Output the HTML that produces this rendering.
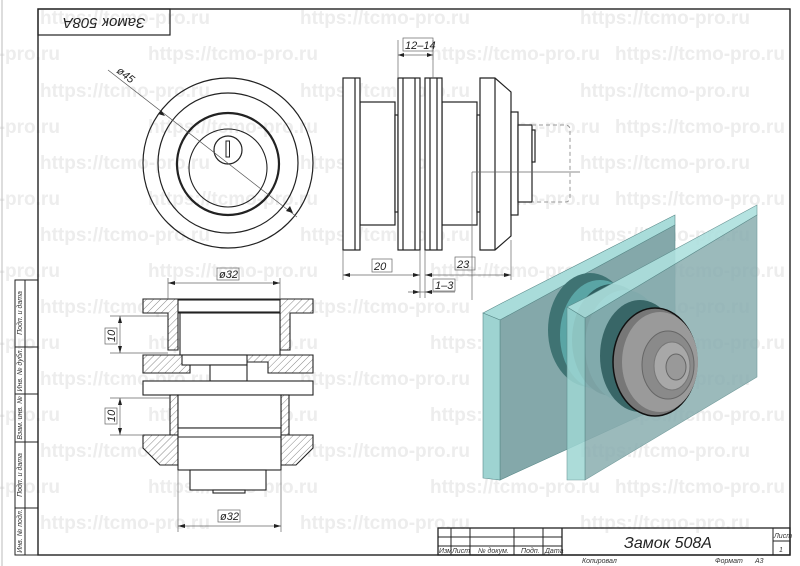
<!DOCTYPE html>
<html><head><meta charset="utf-8"><style>
html,body{margin:0;padding:0;background:#fff;}
svg{display:block;font-family:"Liberation Sans","DejaVu Sans",sans-serif;}
.wm{font-weight:bold;font-size:19px;fill:#ededed;}
.d{font-style:italic;font-size:11px;fill:#222;}
</style></head><body>
<svg width="800" height="566" viewBox="0 0 800 566" xmlns="http://www.w3.org/2000/svg">
<defs>
<pattern id="h" width="5" height="5" patternUnits="userSpaceOnUse" patternTransform="rotate(45)">
<rect width="5" height="5" fill="#fff"/><line x1="0" y1="0" x2="0" y2="5" stroke="#555" stroke-width="0.7"/></pattern>
</defs>
<g class="wm">
<text x="40" y="24">https://tcmo-pro.ru</text><text x="300" y="24">https://tcmo-pro.ru</text><text x="580" y="24">https://tcmo-pro.ru</text>
<text x="-110" y="60">https://tcmo-pro.ru</text><text x="148" y="60">https://tcmo-pro.ru</text><text x="430" y="60">https://tcmo-pro.ru</text><text x="615" y="60">https://tcmo-pro.ru</text>
<text x="40" y="97">https://tcmo-pro.ru</text><text x="300" y="97">https://tcmo-pro.ru</text><text x="580" y="97">https://tcmo-pro.ru</text>
<text x="-110" y="133">https://tcmo-pro.ru</text><text x="148" y="133">https://tcmo-pro.ru</text><text x="430" y="133">https://tcmo-pro.ru</text><text x="615" y="133">https://tcmo-pro.ru</text>
<text x="40" y="169">https://tcmo-pro.ru</text><text x="300" y="169">https://tcmo-pro.ru</text><text x="580" y="169">https://tcmo-pro.ru</text>
<text x="-110" y="205">https://tcmo-pro.ru</text><text x="148" y="205">https://tcmo-pro.ru</text><text x="430" y="205">https://tcmo-pro.ru</text><text x="615" y="205">https://tcmo-pro.ru</text>
<text x="40" y="241">https://tcmo-pro.ru</text><text x="300" y="241">https://tcmo-pro.ru</text><text x="580" y="241">https://tcmo-pro.ru</text>
<text x="-110" y="277">https://tcmo-pro.ru</text><text x="148" y="277">https://tcmo-pro.ru</text><text x="430" y="277">https://tcmo-pro.ru</text><text x="615" y="277">https://tcmo-pro.ru</text>
<text x="40" y="313">https://tcmo-pro.ru</text><text x="300" y="313">https://tcmo-pro.ru</text><text x="580" y="313">https://tcmo-pro.ru</text>
<text x="-110" y="349">https://tcmo-pro.ru</text><text x="148" y="349">https://tcmo-pro.ru</text><text x="430" y="349">https://tcmo-pro.ru</text><text x="615" y="349">https://tcmo-pro.ru</text>
<text x="40" y="385">https://tcmo-pro.ru</text><text x="300" y="385">https://tcmo-pro.ru</text><text x="580" y="385">https://tcmo-pro.ru</text>
<text x="-110" y="421">https://tcmo-pro.ru</text><text x="148" y="421">https://tcmo-pro.ru</text><text x="430" y="421">https://tcmo-pro.ru</text><text x="615" y="421">https://tcmo-pro.ru</text>
<text x="40" y="457">https://tcmo-pro.ru</text><text x="300" y="457">https://tcmo-pro.ru</text><text x="580" y="457">https://tcmo-pro.ru</text>
<text x="-110" y="493">https://tcmo-pro.ru</text><text x="148" y="493">https://tcmo-pro.ru</text><text x="430" y="493">https://tcmo-pro.ru</text><text x="615" y="493">https://tcmo-pro.ru</text>
<text x="40" y="529">https://tcmo-pro.ru</text><text x="300" y="529">https://tcmo-pro.ru</text><text x="580" y="529">https://tcmo-pro.ru</text>
</g>

<g fill="none" stroke="#222">
<rect x="38" y="9" width="752" height="546" stroke-width="1.4"/>
<rect x="38" y="9" width="132" height="26" stroke-width="1.2"/>
<rect x="15" y="280" width="23" height="275" stroke-width="1"/>
<line x1="25" y1="280" x2="25" y2="555"/>
<line x1="15" y1="347" x2="38" y2="347"/><line x1="15" y1="394" x2="38" y2="394"/>
<line x1="15" y1="442" x2="38" y2="442"/><line x1="15" y1="508" x2="38" y2="508"/>
<line x1="2" y1="0" x2="2" y2="566" stroke="#bbb"/>
</g>
<text x="104" y="22" transform="rotate(180 104 22)" text-anchor="middle" dominant-baseline="middle" style="font-style:italic;font-size:15px;fill:#222">Замок 508А</text>
<g style="font-style:italic;font-size:7px;fill:#333">
<text transform="translate(22,313) rotate(-90)" text-anchor="middle">Подп. и дата</text>
<text transform="translate(22,370) rotate(-90)" text-anchor="middle">Инв. № дубл.</text>
<text transform="translate(22,418) rotate(-90)" text-anchor="middle">Взам. инв. №</text>
<text transform="translate(22,475) rotate(-90)" text-anchor="middle">Подп. и дата</text>
<text transform="translate(22,531) rotate(-90)" text-anchor="middle">Инв. № подл.</text>
</g>

<g fill="none" stroke="#222" stroke-width="1">
<rect x="438" y="528" width="352" height="27" stroke-width="1.3"/>
<line x1="451" y1="528" x2="451" y2="555"/><line x1="470" y1="528" x2="470" y2="555"/>
<line x1="514" y1="528" x2="514" y2="555"/><line x1="543" y1="528" x2="543" y2="555"/>
<line x1="562" y1="528" x2="562" y2="555" stroke-width="1.3"/>
<line x1="773" y1="528" x2="773" y2="555"/>
<line x1="438" y1="537" x2="562" y2="537"/><line x1="438" y1="546" x2="562" y2="546"/>
<line x1="773" y1="541" x2="790" y2="541"/>
</g>
<g style="font-style:italic;font-size:7px;fill:#333">
<text x="439" y="553">Изм</text><text x="452" y="553">Лист</text><text x="478" y="553">№ докум.</text><text x="521" y="553">Подп.</text><text x="545" y="553">Дата</text>
<text x="774" y="538">Лист</text><text x="779" y="552">1</text>
<text x="582" y="563">Копировал</text><text x="715" y="563">Формат</text><text x="755" y="563">А3</text>
</g>
<text x="668" y="548" text-anchor="middle" style="font-style:italic;font-size:16px;fill:#222">Замок 508А</text>

<g fill="none" stroke="#222">
<circle cx="228" cy="163" r="85" stroke-width="1.2"/>
<circle cx="228" cy="163" r="70" stroke-width="1.2"/>
<circle cx="228" cy="164" r="51" stroke-width="2.2"/>
<circle cx="228" cy="168" r="39" stroke-width="1.1"/>
<circle cx="228" cy="150" r="14" stroke-width="1.2"/>
<rect x="226" y="141" width="3.5" height="16" stroke-width="1"/>
<line x1="108" y1="70" x2="297" y2="217" stroke="#555" stroke-width="0.7"/>
</g>
<path d="M165,116 l-7,-2 l3,-4z M293,213 l-3,-7 l-4,5z" fill="#222"/>
<text class="d" transform="translate(116,72) rotate(38)">ø45</text>

<g fill="#fff" stroke="#222" stroke-width="1.2">
<rect x="360" y="102" width="35" height="123"/>
<rect x="395" y="115" width="3" height="97"/>
<rect x="442" y="102" width="35" height="123"/>
<rect x="477" y="115" width="3" height="97"/>
<rect x="343" y="78" width="17" height="172"/>
<line x1="355" y1="78" x2="355" y2="250"/>
<rect x="398" y="78" width="22" height="172"/>
<line x1="403" y1="78" x2="403" y2="250"/>
<line x1="415" y1="78" x2="415" y2="250"/>
<rect x="425" y="78" width="17" height="172"/>
<line x1="430" y1="78" x2="430" y2="250"/>
<line x1="437" y1="78" x2="437" y2="250"/>
<path d="M480,78 H495 L511,92 V236 L495,250 H480Z"/>
<line x1="495" y1="78" x2="495" y2="250"/>
<rect x="511" y="112" width="7" height="103"/>
<rect x="518" y="125" width="14" height="77"/>
<rect x="532" y="130" width="3" height="32"/>
</g>
<path d="M532,125 H565 Q570,125 570,130 V197 Q570,202 565,202 H532" fill="none" stroke="#999" stroke-dasharray="4,3"/>
<g stroke="#666" stroke-width="0.7" fill="none">
<line x1="398" y1="40" x2="398" y2="78"/><line x1="433" y1="40" x2="433" y2="78"/>
<line x1="398" y1="55" x2="433" y2="55"/>
<line x1="343" y1="250" x2="343" y2="280"/><line x1="420" y1="250" x2="420" y2="298"/>
<line x1="425" y1="250" x2="425" y2="298"/><line x1="511" y1="240" x2="511" y2="280"/>
<line x1="343" y1="275" x2="420" y2="275"/><line x1="425" y1="275" x2="511" y2="275"/>
<line x1="408" y1="292" x2="455" y2="292"/>
<line x1="472" y1="172" x2="580" y2="172"/>
<line x1="472" y1="172" x2="472" y2="300"/>
<rect x="403" y="38" width="30" height="13"/>
<rect x="372" y="259" width="20" height="13"/>
<rect x="455" y="257" width="20" height="13"/>
<rect x="433" y="279" width="22" height="12"/>
</g>
<path d="M398,55 l6,-2 v4z M433,55 l-6,-2 v4z M343,275 l7,-2 v4z M420,275 l-7,-2 v4z M425,275 l7,-2 v4z M511,275 l-7,-2 v4z M420,292 l-7,-2 v4z M425,292 l7,-2 v4z" fill="#222"/>
<text class="d" x="405" y="49">12–14</text>
<text class="d" x="374" y="270">20</text>
<text class="d" x="457" y="268">23</text>
<text class="d" x="435" y="289">1–3</text>

<g stroke="#222" stroke-width="1.1">
<path d="M143,299 H313 V313 H290 V350 H280 V313 H178 V350 H168 V313 H143Z" fill="url(#h)"/>
<rect x="178" y="300" width="102" height="12" fill="#fff"/>
<path d="M143,355 H313 V373 H268 V362 H190 V373 H143Z" fill="url(#h)"/>
<rect x="180" y="313" width="100" height="42" fill="#fff"/>
<rect x="182" y="355" width="65" height="10" fill="#fff"/>
<rect x="210" y="365" width="37" height="16" fill="#fff"/>
<rect x="143" y="381" width="170" height="14" fill="#fff"/>
<rect x="170" y="395" width="8" height="40" fill="url(#h)"/>
<rect x="281" y="395" width="8" height="40" fill="url(#h)"/>
<rect x="178" y="395" width="103" height="33" fill="#fff"/>
<path d="M143,435 H178 V465 H160 L143,448Z" fill="url(#h)"/>
<path d="M281,435 H313 V448 L296,465 H281Z" fill="url(#h)"/>
<rect x="178" y="428" width="103" height="42" fill="#fff"/>
<line x1="178" y1="437" x2="281" y2="437"/>
<rect x="190" y="470" width="76" height="20" fill="#fff"/>
<rect x="213" y="490" width="32" height="3" fill="#fff"/>
</g>
<g stroke="#666" stroke-width="0.7" fill="none">
<line x1="168" y1="278" x2="168" y2="299"/><line x1="280" y1="278" x2="280" y2="299"/>
<line x1="168" y1="283" x2="280" y2="283"/>
<line x1="178" y1="470" x2="178" y2="532"/><line x1="281" y1="470" x2="281" y2="532"/>
<line x1="178" y1="526" x2="281" y2="526"/>
<line x1="110" y1="316" x2="168" y2="316"/><line x1="110" y1="353" x2="168" y2="353"/>
<line x1="110" y1="398" x2="170" y2="398"/><line x1="110" y1="435" x2="143" y2="435"/>
<line x1="120" y1="316" x2="120" y2="353"/><line x1="120" y1="398" x2="120" y2="435"/>
<rect x="217" y="268" width="22" height="12"/><rect x="218" y="510" width="22" height="12"/>
<rect x="105" y="328" width="12" height="16"/><rect x="105" y="408" width="12" height="16"/>
</g>
<path d="M168,283 l7,-2 v4z M280,283 l-7,-2 v4z M178,526 l7,-2 v4z M281,526 l-7,-2 v4z M120,316 l-2,7 h4z M120,353 l-2,-7 h4z M120,398 l-2,7 h4z M120,435 l-2,-7 h4z" fill="#222"/>
<text class="d" x="219" y="278">ø32</text><text class="d" x="220" y="520">ø32</text>
<text class="d" transform="translate(115,342) rotate(-90)">10</text>
<text class="d" transform="translate(115,422) rotate(-90)">10</text>

<g stroke="#5a8a8a" stroke-width="0.6">
<polygon points="483,313 502,303 675,215 675,225 500,320 483,313" fill="#a9dcda"/>
<polygon points="500,320 675,225 675,400 500,480" fill="#84a8aa"/>
<polygon points="483,313 500,320 500,480 483,478" fill="#9ed3d1"/>
</g>
<ellipse cx="590" cy="330" rx="42" ry="57" fill="#3f7373"/>
<ellipse cx="600" cy="335" rx="40" ry="55" fill="#5aa5a5"/>
<ellipse cx="612" cy="340" rx="40" ry="56" fill="#2f5f60"/>
<ellipse cx="625" cy="346" rx="40" ry="56" fill="#4e9797"/>
<g stroke="#5a8a8a" stroke-width="0.6">
<polygon points="567,307 585,298 757,205 757,215 585,318" fill="#aee0de" opacity="0.9"/>
<polygon points="585,318 757,215 757,377 585,480" fill="#8aaeb0" opacity="0.85"/>
<polygon points="567,307 585,318 585,480 567,480" fill="#9ed6d3" opacity="0.85"/>
</g>
<ellipse cx="640" cy="356" rx="40" ry="56" fill="#2b5a5b" opacity="0.85"/>
<ellipse cx="655" cy="362" rx="42" ry="54" fill="#777" stroke="#111" stroke-width="1.5"/>
<ellipse cx="660" cy="362" rx="38" ry="50" fill="#9a9a9a"/>
<ellipse cx="668" cy="365" rx="26" ry="34" fill="#8a8a8a" stroke="#666"/>
<ellipse cx="672" cy="366" rx="18" ry="24" fill="#a8a8a8" stroke="#777"/>
<ellipse cx="676" cy="367" rx="10" ry="13" fill="#999" stroke="#666"/>
</svg>
</body></html>
